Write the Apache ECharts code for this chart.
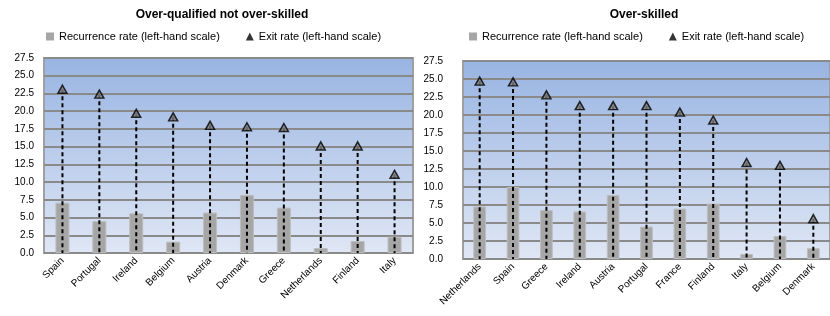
<!DOCTYPE html>
<html>
<head>
<meta charset="utf-8">
<script src="https://cdn.jsdelivr.net/npm/echarts@6/dist/echarts.min.js"></script>
<style>
  html, body { margin: 0; padding: 0; background: #fff; }
  #main { width: 830px; height: 316px; }
</style>
</head>
<body>
<div id="main"></div>
<script>
const yTicks = ["0.0", "2.5", "5.0", "7.5", "10.0", "12.5", "15.0", "17.5", "20.0", "22.5", "25.0", "27.5"];

const leftTitle = "Over-qualified not over-skilled";
const leftCountries = ["Spain", "Portugal", "Ireland", "Belgium", "Austria", "Denmark", "Greece", "Netherlands", "Finland", "Italy"];
const leftRecurrence = [7.1, 4.5, 5.6, 1.6, 5.7, 8.2, 6.4, 0.7, 1.7, 2.3];
const leftExit = [23.1, 22.4, 19.7, 19.2, 18.0, 17.8, 17.7, 15.1, 15.1, 11.1];

const rightTitle = "Over-skilled";
const rightCountries = ["Netherlands", "Spain", "Greece", "Ireland", "Austria", "Portugal", "France", "Finland", "Italy", "Belgium", "Denmark"];
const rightRecurrence = [7.3, 10.0, 6.8, 6.6, 8.9, 4.5, 7.0, 7.7, 0.7, 3.2, 1.5];
const rightExit = [24.7, 24.6, 22.8, 21.3, 21.3, 21.3, 20.4, 19.3, 13.4, 13.0, 5.6];

const recurrenceName = "Recurrence rate (left-hand scale)";
const exitName = "Exit rate (left-hand scale)";

const font = "Liberation Sans";

function plotBackground() {
  return new echarts.graphic.LinearGradient(0, 0, 0, 1, [
    { offset: 0, color: "#98b4e2" },
    { offset: 1, color: "#e0e7f5" },
  ]);
}

function yAxis(gridIndex, margin) {
  return {
    type: "value",
    gridIndex,
    min: 0,
    max: 27.5,
    interval: 2.5,
    axisLine: { show: false },
    axisTick: { show: false },
    axisLabel: {
      margin,
      fontFamily: font,
      fontSize: 10,
      color: "#000",
      formatter: (v) => yTicks[Math.round(v / 2.5)],
    },
    splitLine: { lineStyle: { color: "#8a8a8a", width: 2 } },
  };
}

function xAxis(gridIndex, data) {
  return {
    type: "category",
    gridIndex,
    data,
    axisLine: { show: false },
    axisTick: { show: false },
    axisLabel: {
      rotate: 45,
      interval: 0,
      margin: 6,
      fontFamily: font,
      fontSize: 10,
      color: "#000",
    },
  };
}

function dropLines(index, values) {
  return {
    type: "custom",
    xAxisIndex: index,
    yAxisIndex: index,
    silent: true,
    z: 3,
    data: values.map((v, i) => [i, v]),
    renderItem: (params, api) => {
      const top = api.coord([api.value(0), api.value(1)]);
      const bottom = api.coord([api.value(0), 0]);
      return {
        type: "line",
        shape: { x1: top[0], y1: top[1], x2: bottom[0], y2: bottom[1] },
        style: { stroke: "#000", lineWidth: 2, lineDash: [4, 3] },
      };
    },
  };
}

function seriesFor(index, recurrence, exit) {
  return [
    {
      name: recurrenceName,
      type: "bar",
      xAxisIndex: index,
      yAxisIndex: index,
      data: recurrence,
      barWidth: "38%",
      itemStyle: { color: "#a6a6a6", borderColor: "#bdbdbd", borderWidth: 1 },
      z: 2,
    },
    dropLines(index, exit),
    {
      name: exitName,
      type: "scatter",
      xAxisIndex: index,
      yAxisIndex: index,
      data: exit,
      symbol: "triangle",
      symbolSize: [9, 8],
      itemStyle: { color: "#808080", borderColor: "#000", borderWidth: 1.5 },
      z: 4,
    },
  ];
}

function legend(left, gap) {
  return {
    left,
    top: 31,
    padding: 0,
    itemGap: gap,
    itemWidth: 8,
    itemHeight: 8,
    textStyle: { fontFamily: font, fontSize: 11, color: "#000" },
    data: [
      { name: recurrenceName, icon: "rect", itemStyle: { color: "#a6a6a6", borderWidth: 0 } },
      { name: exitName, icon: "triangle", itemStyle: { color: "#000", borderWidth: 0 } },
    ],
  };
}

const chart = echarts.init(document.getElementById("main"));
chart.setOption({
  animation: false,
  title: [
    { text: leftTitle, left: 217, top: 4, textAlign: "center",
      textStyle: { fontFamily: font, fontSize: 12, fontWeight: "bold", color: "#000" } },
    { text: rightTitle, left: 639, top: 4, textAlign: "center",
      textStyle: { fontFamily: font, fontSize: 12, fontWeight: "bold", color: "#000" } },
  ],
  legend: [legend(46, 26), legend(469, 26)],
  grid: [
    { left: 44, top: 58, width: 369, height: 195, show: true, backgroundColor: plotBackground(),
      borderColor: "#a0a0a0", borderWidth: 2 },
    { left: 463, top: 61, width: 375, height: 198, show: true, backgroundColor: plotBackground(),
      borderColor: "#a0a0a0", borderWidth: 2 },
  ],
  xAxis: [xAxis(0, leftCountries), xAxis(1, rightCountries)],
  yAxis: [yAxis(0, 10), yAxis(1, 20)],
  series: [
    ...seriesFor(0, leftRecurrence, leftExit),
    ...seriesFor(1, rightRecurrence, rightExit),
  ],
});
</script>
</body>
</html>
